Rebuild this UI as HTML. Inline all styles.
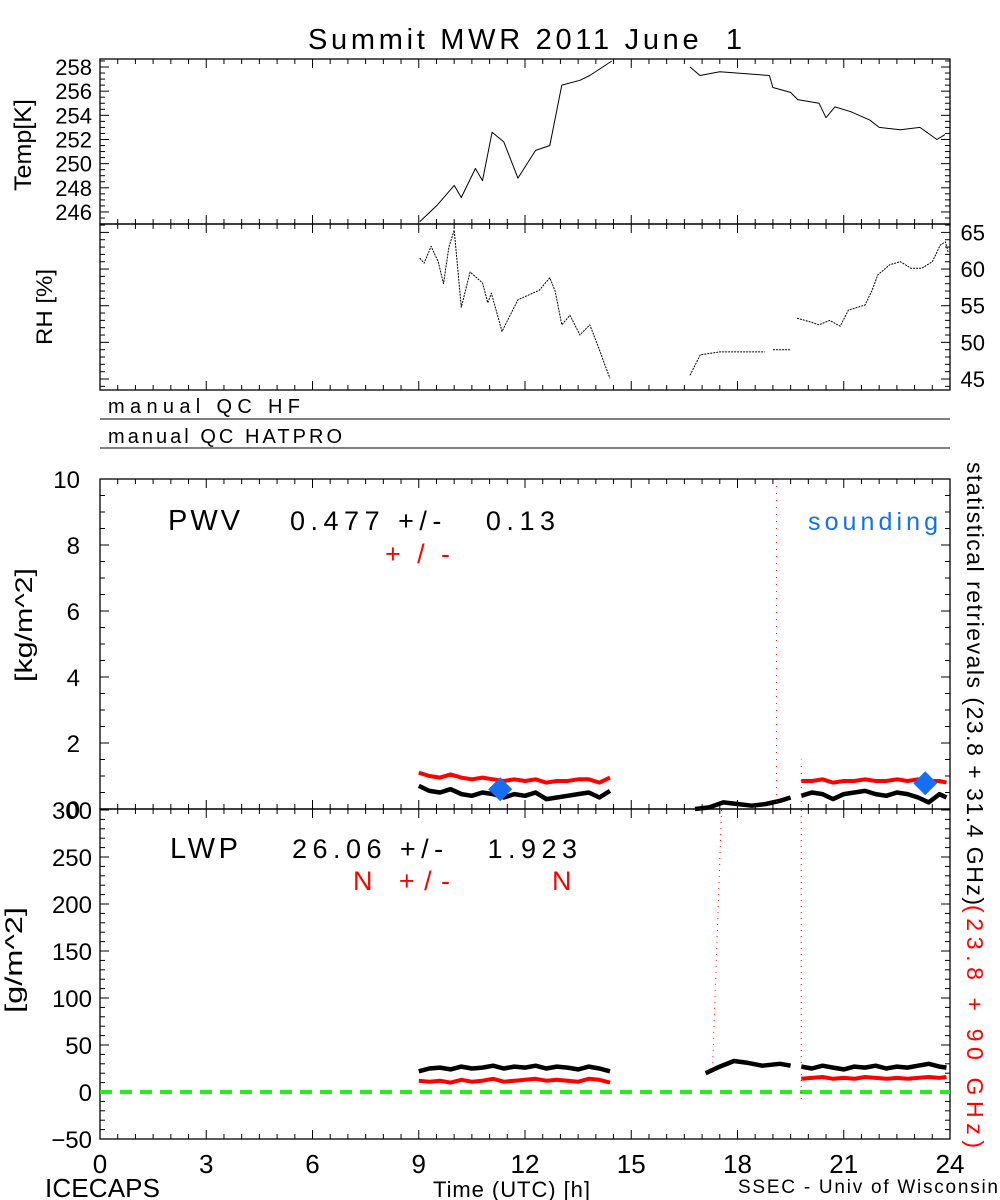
<!DOCTYPE html>
<html><head><meta charset="utf-8"><style>
body{margin:0;background:#fff}
svg{display:block;font-family:"Liberation Sans",sans-serif}
text{white-space:pre}
</style></head><body>
<svg id="c" width="1000" height="1200" viewBox="0 0 1000 1200" xmlns="http://www.w3.org/2000/svg">
<text x="308" y="49" font-size="29" textLength="434" lengthAdjust="spacing">Summit MWR 2011 June  1</text>
<text transform="translate(31,145) rotate(-90)" font-size="24" text-anchor="middle" textLength="92" lengthAdjust="spacingAndGlyphs">Temp[K]</text>
<text transform="translate(52,307) rotate(-90)" font-size="22" text-anchor="middle" textLength="76" lengthAdjust="spacingAndGlyphs">RH [%]</text>
<text x="108" y="413" font-size="20" textLength="192" lengthAdjust="spacing">manual QC HF</text>
<line x1="100" y1="419" x2="950" y2="419" stroke="#000"/>
<text x="108" y="443" font-size="20" textLength="234" lengthAdjust="spacing">manual QC HATPRO</text>
<line x1="100" y1="448" x2="950" y2="448" stroke="#000"/>
<text transform="translate(32,625) rotate(-90)" font-size="24" text-anchor="middle" textLength="114" lengthAdjust="spacingAndGlyphs">[kg/m^2]</text>
<text transform="translate(22,960) rotate(-90)" font-size="24" text-anchor="middle" textLength="106" lengthAdjust="spacingAndGlyphs">[g/m^2]</text>
<text x="168" y="530" font-size="29" textLength="72" lengthAdjust="spacing">PWV</text>
<text x="290" y="530" font-size="27" textLength="265" lengthAdjust="spacing">0.477 +/-   0.13</text>
<text x="385" y="563" font-size="27" fill="#f00" textLength="65" lengthAdjust="spacing">+/-</text>
<text x="808" y="530" font-size="25" fill="#1470f0" textLength="130" lengthAdjust="spacing">sounding</text>
<text x="170" y="858" font-size="29" textLength="68" lengthAdjust="spacing">LWP</text>
<text x="292" y="858" font-size="27" textLength="285" lengthAdjust="spacing">26.06 +/-   1.923</text>
<text x="353" y="890" font-size="27" fill="#f00" textLength="97" lengthAdjust="spacing">N +/-</text>
<text x="552" y="890" font-size="27" fill="#f00">N</text>
<text transform="translate(967,462) rotate(90)" font-size="23" textLength="443" lengthAdjust="spacing">statistical retrievals (23.8 + 31.4 GHz)</text>
<text transform="translate(967,905) rotate(90)" font-size="23" fill="#f00" textLength="243" lengthAdjust="spacing">(23.8 + 90 GHz)</text>
<text x="45" y="1197" font-size="26" textLength="115" lengthAdjust="spacing">ICECAPS</text>
<text x="433" y="1197" font-size="22" textLength="157" lengthAdjust="spacing">Time (UTC) [h]</text>
<text x="738" y="1193" font-size="19" textLength="260" lengthAdjust="spacing">SSEC - Univ of Wisconsin</text>
<g id="g"></g>
</svg>
<script>
const xTicks=[0,3,6,9,12,15,18,21,24];
const tempTicks=[246,248,250,252,254,256,258];
const rhTicks=[45,50,55,60,65];
const pwvTicks=[0,2,4,6,8,10];
const lwpTicks=[-50,0,50,100,150,200,250,300];
const tempT=[9.03,9.5,10.0,10.2,10.6,10.8,11.07,11.4,11.8,12.3,12.7,13.04,13.55,13.83,14.45,null,16.66,16.94,17.5,18.9,19.0,19.5,19.7,20.3,20.5,20.75,21.2,21.74,22.0,22.6,23.15,23.63,23.86];
const tempV=[245.2,246.5,248.2,247.2,249.6,248.6,252.6,251.8,248.8,251.1,251.5,256.5,256.9,257.3,258.5,null,258,257.3,257.6,257.3,256.3,255.9,255.3,255.0,253.8,254.7,254.3,253.6,253.0,252.8,253.0,252.0,252.4];
const rhT=[9.03,9.15,9.35,9.55,9.7,9.85,10.0,10.2,10.45,10.8,10.95,11.05,11.35,11.8,12.4,12.7,12.85,13.04,13.27,13.55,13.83,14.1,14.25,14.4,null,16.66,16.95,17.5,18.77,null,19.0,19.5,null,19.68,20.05,20.3,20.6,20.9,21.13,21.6,21.8,21.96,22.3,22.6,22.9,23.2,23.5,23.73,23.87,23.95];
const rhV=[61.5,60.8,63.1,61,58,63,65.3,54.8,59.6,58.1,55.4,56.7,51.5,55.8,57.1,58.8,57,52.4,53.7,51,52.4,49,47,45.1,null,45.5,48.3,48.7,48.7,null,49,49,null,53.3,52.8,52.4,53,52.2,54.4,55.1,57.1,59.2,60.6,61,60.1,60.1,61,63.3,63.7,62.3];
const pwvT=[9.0,9.3,9.6,9.9,10.2,10.5,10.8,11.1,11.4,11.7,12.0,12.3,12.6,12.9,13.2,13.5,13.8,14.1,14.4,null,16.8,17.2,17.6,18.0,18.4,18.8,19.2,19.5,null,19.8,20.1,20.4,20.7,21.0,21.3,21.6,21.9,22.2,22.5,22.8,23.1,23.4,23.7,23.9];
const pwvBlack=[0.7,0.55,0.5,0.6,0.45,0.4,0.5,0.45,0.35,0.45,0.4,0.5,0.3,0.35,0.4,0.45,0.5,0.35,0.55,null,0.0,0.05,0.2,0.15,0.1,0.15,0.25,0.35,null,0.4,0.5,0.45,0.3,0.45,0.5,0.55,0.45,0.4,0.5,0.45,0.35,0.2,0.45,0.35];
const pwvRed=[1.1,1.0,0.95,1.05,0.95,0.9,0.95,0.9,0.85,0.9,0.85,0.9,0.8,0.85,0.85,0.9,0.9,0.8,0.95,null,0.0,null,null,null,null,null,null,null,null,0.85,0.85,0.9,0.8,0.85,0.85,0.9,0.85,0.85,0.9,0.85,0.9,0.85,0.85,0.8];
const lwpT=[9.0,9.3,9.6,9.9,10.2,10.5,10.8,11.1,11.4,11.7,12.0,12.3,12.6,12.9,13.2,13.5,13.8,14.1,14.4,null,17.1,17.5,17.9,18.3,18.7,19.2,19.5,null,19.8,20.1,20.4,20.7,21.0,21.3,21.6,21.9,22.2,22.5,22.8,23.1,23.4,23.7,23.9];
const lwpBlack=[22,25,26,24,27,25,26,28,25,27,26,28,25,27,26,24,27,25,22,null,20,27,33,31,28,30,28,null,27,25,28,26,24,27,26,28,25,27,26,28,30,27,26];
const lwpRed=[12,11,12,10,13,11,12,14,11,12,13,14,12,13,12,11,14,13,10,null,null,null,null,null,null,null,null,null,14,15,16,14,15,14,16,15,14,15,14,15,16,15,16];
const soundT=[11.3,23.3];
const soundPwv=[0.6,0.78];
const spikeT=[19.1,19.8];
const spikeTop=[10,1.5];
const lwpSpikeT=[17.4,19.8];
const lwpSpikeTop=[300,300];
const lwpSpikeBottom=[30,-10];

const NS='http://www.w3.org/2000/svg';
const G=document.getElementById('g');
const X0=100,X1=950;
const sx=t=>X0+t*(X1-X0)/24;
const panels={
 temp:{top:59,bot:224,y:v=>67+(258-v)*12.08},
 rh:{top:224,bot:390,y:v=>379-(v-45)*7.33},
 pwv:{top:479,bot:809,y:v=>809-v*33},
 lwp:{top:809,bot:1139,y:v=>1092-v*0.94}
};
function mk(tag,a,name,parent){const e=document.createElementNS(NS,tag);for(const k in a)e.setAttribute(k,a[k]);


(parent||G).appendChild(e);return e;}
function ln(x1,y1,x2,y2,name,st){return mk('line',{x1,y1,x2,y2,stroke:st||'#000','stroke-width':1},name);}
function frame(p,name){mk('rect',{x:X0,y:p.top,width:X1-X0,height:p.bot-p.top,fill:'none',stroke:'#000','stroke-width':1.3},name);
 for(let t=0;t<=24;t+=0.5){const maj=t%3===0,L=maj?9:5;ln(sx(t),p.top,sx(t),p.top+L,name+'-xtick');ln(sx(t),p.bot,sx(t),p.bot-L,name+'-xtick');}}
function yticks(p,lo,hi,minor,major,name){for(let v=lo;v<=hi+1e-9;v+=minor){const y=p.y(v);if(y<p.top-0.5||y>p.bot+0.5)continue;const m=Math.abs(v/major-Math.round(v/major))<1e-6,L=m?9:5;ln(X0,y,X0+L,y,name);ln(X1,y,X1-L,y,name);}}
function path(T,V,p,col,w,name,dash){let d='',pen=false;for(let i=0;i<T.length;i++){if(T[i]===null||V[i]===null){pen=false;continue;}d+=(pen?'L':'M')+sx(T[i]).toFixed(1)+','+p.y(V[i]).toFixed(1);pen=true;}
 const a={d,fill:'none',stroke:col,'stroke-width':w,'stroke-linejoin':'round'};if(dash)a['stroke-dasharray']=dash;return mk('path',a,name);}
function lbl(x,y,s,name,anchor,size){const e=mk('text',{x,y,'font-size':size||22,'text-anchor':anchor||'end'},name);e.textContent=s;}

frame(panels.temp,'temp-panel');yticks(panels.temp,245,258.5,0.5,2,'temp-ytick');
tempTicks.forEach(v=>lbl(92,panels.temp.y(v)+8,String(v),'temp-tick-label'));
path(tempT,tempV,panels.temp,'#000',1,'temp-line');

frame(panels.rh,'rh-panel');yticks(panels.rh,44,66,1,5,'rh-ytick');
rhTicks.forEach(v=>lbl(985,panels.rh.y(v)+8,String(v),'rh-tick-label'));
path(rhT,rhV,panels.rh,'#000',1,'rh-line','2 1');

frame(panels.pwv,'pwv-panel');yticks(panels.pwv,0,10,0.5,2,'pwv-ytick');
pwvTicks.forEach(v=>lbl(80,panels.pwv.y(v)+9,String(v),'pwv-tick-label','end',24));
path(pwvT,pwvRed,panels.pwv,'#f00',4,'pwv-red-series');
path(pwvT,pwvBlack,panels.pwv,'#000',4.5,'pwv-black-series');
spikeT.forEach((t,i)=>{const e=ln(sx(t),panels.pwv.y(0),sx(t),panels.pwv.y(spikeTop[i]),'pwv-red-spike','#f00');e.setAttribute('stroke-dasharray','1 6');});
soundT.forEach((t,i)=>{const x=sx(t),y=panels.pwv.y(soundPwv[i]);mk('polygon',{points:`${x},${y-12} ${x+12},${y} ${x},${y+12} ${x-12},${y}`,fill:'#1470f0'},'sounding-marker');});

frame(panels.lwp,'lwp-panel');yticks(panels.lwp,-50,300,10,50,'lwp-ytick');
lwpTicks.forEach(v=>lbl(92,panels.lwp.y(v)+9,v<0?'\u2212'+(-v):String(v),'lwp-tick-label','end',24));
ln(X0,panels.lwp.y(0),X1,panels.lwp.y(0),'zero-line','#2e2').setAttribute('stroke-width',4);
G.lastChild.setAttribute('stroke-dasharray','12 8');
path(lwpT,lwpRed,panels.lwp,'#f00',4,'lwp-red-series');
path(lwpT,lwpBlack,panels.lwp,'#000',4.5,'lwp-black-series');
lwpSpikeT.forEach((t,i)=>{const e=ln(sx(t+(i===0?0.15:0)),panels.lwp.y(lwpSpikeTop[i]),sx(t-(i===0?0.1:0)),panels.lwp.y(lwpSpikeBottom[i]),'lwp-red-spike','#f00');e.setAttribute('stroke-dasharray','1 5');});

xTicks.forEach(t=>lbl(sx(t),1173,String(t),'x-tick-label','middle',26));
</script>
</body></html>
